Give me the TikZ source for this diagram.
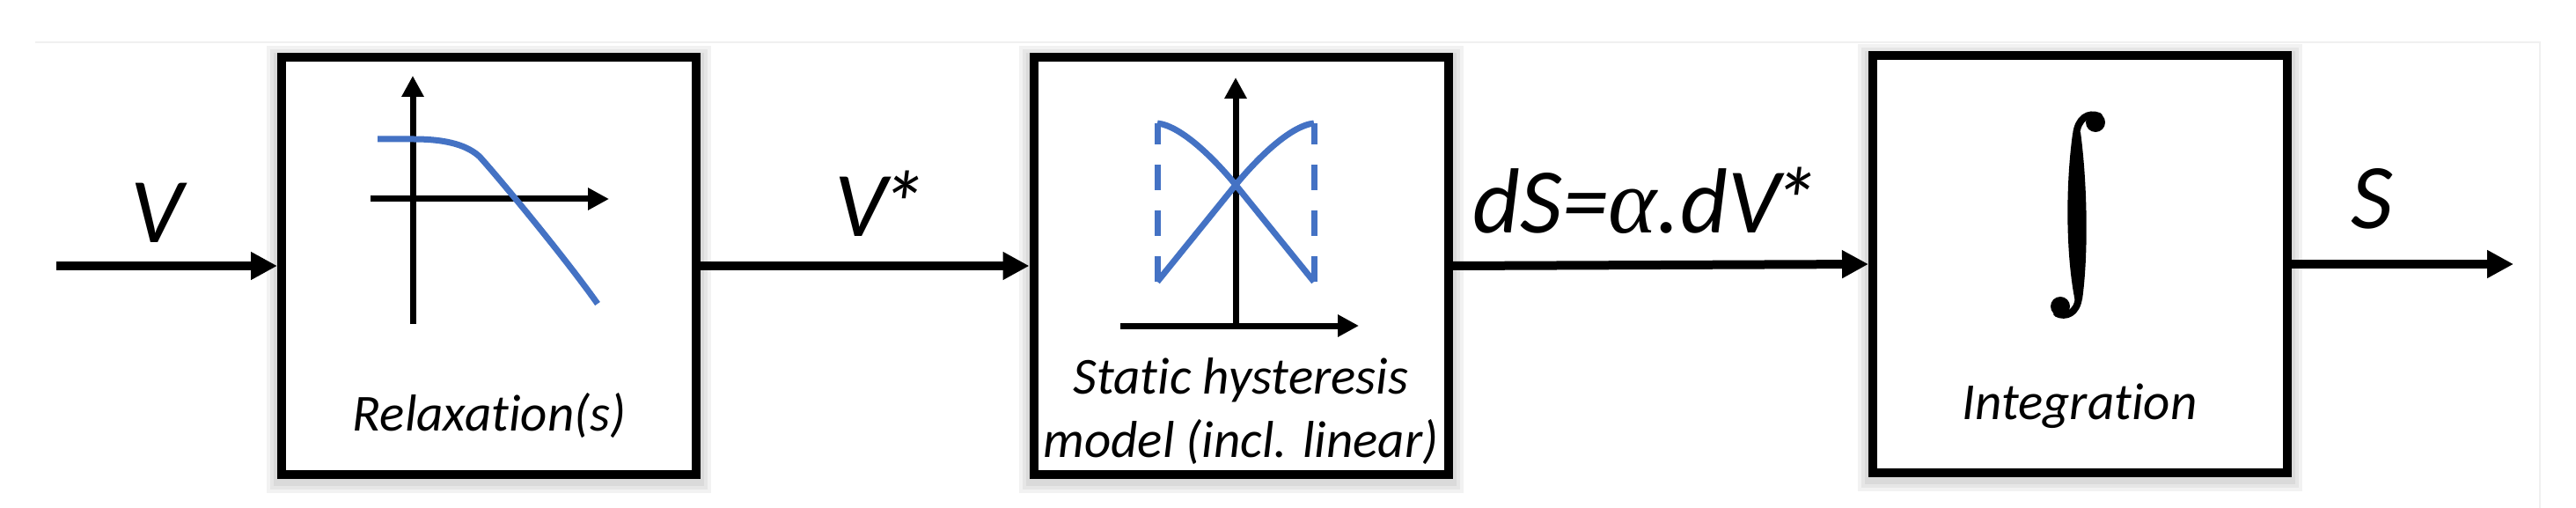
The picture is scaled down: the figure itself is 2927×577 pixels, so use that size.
\documentclass[tikz,border=0pt]{standalone}
\usepackage{fontspec}
\setmainfont{Carlito}[Ligatures={NoCommon}]
\newfontfamily\grkfont{Liberation Serif}
\usetikzlibrary{arrows.meta}
\definecolor{plotblue}{HTML}{4472C4}
\tikzset{
  blk/.style={draw=black, line width=10pt, minimum width=471pt, minimum height=473pt, inner sep=0pt, fill=white},
  glow/.style={draw=black, opacity=0.05, line width=#1},
  flow/.style={line width=10pt, -{Triangle[length=30pt,width=30pt]}},
  ax/.style={line width=7pt, -{Triangle[length=24pt,width=24pt]}},
  curve/.style={plotblue, line width=7pt},
  sig/.style={font=\fontsize{105}{110}\selectfont\itshape, anchor=base, inner sep=0pt},
  capt/.style={font=\fontsize{59}{62}\selectfont\itshape, anchor=base, inner sep=0pt},
  intstroke/.style={line width=8pt, line cap=round},
}
\begin{document}
\begin{tikzpicture}[x=1pt,y=-1pt]
\useasboundingbox (0,0) rectangle (2927,577);
% faint frame
\draw[black!6, line width=2pt] (40,48) -- (2886,48) -- (2886,577);
% soft glows
\foreach \cx/\cy in {555.5/302, 1410/302, 2363.5/300}{
  \foreach \w in {34,26,18}{
    \draw[glow=\w pt] (\cx-235.5,\cy-236.5+4) rectangle (\cx+235.5,\cy+236.5+4);
  }
}
% boxes
\node[blk] (b1) at (555.5,302) {};
\node[blk] (b2) at (1410,302) {};
\node[blk] (b3) at (2363.5,300) {};
% connectors
\coordinate (vin) at (64,302);
\coordinate (sout) at (2856,300);
\draw[flow] (vin) -- (b1.west);
\draw[flow] (b1.east) -- (b2.west);
\draw[flow] (b2.east) -- (b3.west);
\draw[flow] (b3.east) -- (sout);
% signal labels
\node[sig] (lv) at (178,276) {V};
\node[sig] (lvs) at (1000,269) {V\kern-9pt*};
\node[sig] (lds) at (1870,265) {dS={\grkfont α}.dV\kern-9pt*};
\node[sig] (ls) at (2695,259) {S};
% captions
\node[capt] (c1) at (556,489) {Relaxation(s)};
\node[capt] (c2a) at (1410,447) {Static hysteresis};
\node[capt] (c2b) at (1410,519) {model (incl. linear)};
\node[capt] (c3) at (2363,476) {Integration};
% integral sign
\fill (2355,152) .. controls (2347,210) and (2347,290) .. (2358,343) -- (2366,340) .. controls (2373,290) and (2372,210) .. (2364,150) -- cycle;
\draw[intstroke] (2359,153) .. controls (2361,134) and (2373,127) .. (2385,132);
\fill (2381,139) circle[radius=11pt];
\draw[intstroke] (2362,338) .. controls (2360,356) and (2347,361) .. (2337,356);
\fill (2341,348) circle[radius=11pt];
% plot 1
\draw[ax] (469,368) -- (469,86);
\draw[ax] (421,226) -- (692,226);
\draw[curve] (429,158) -- (470,158) .. controls (510,158) and (532,166) .. (545,178) .. controls (565,200) and (640,290) .. (679,345);
% plot 2
\draw[ax] (1404,370) -- (1404,88);
\draw[ax] (1273,370) -- (1544,370);
\draw[curve, dash pattern=on 29pt off 23pt] (1315,320) -- (1315,140);
\draw[curve, dash pattern=on 29pt off 23pt] (1493,320) -- (1493,140);
\draw[curve] (1315,320) -- (1404,210) .. controls (1426,183) and (1465,143) .. (1493,140);
\draw[curve] (1493,320) -- (1404,210) .. controls (1382,183) and (1343,143) .. (1315,140);
\end{tikzpicture}
\end{document}
